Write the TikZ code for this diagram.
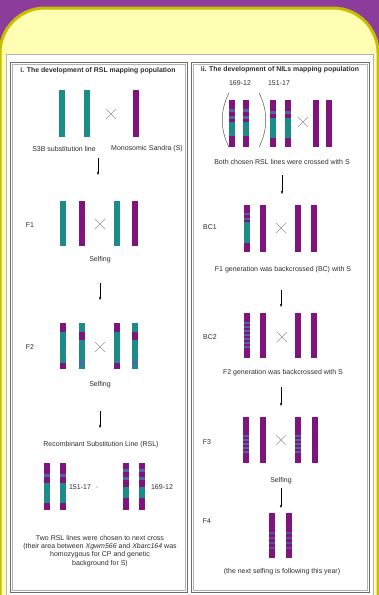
\documentclass[tikz,border=0pt]{standalone}
\usepackage{fontspec}
\setmainfont{Liberation Sans}
\usetikzlibrary{arrows.meta}
\definecolor{bgpurple}{RGB}{140,60,155}
\definecolor{paneyellow}{RGB}{255,255,180}
\definecolor{paneedge}{RGB}{200,190,0}
\definecolor{chteal}{RGB}{28,140,136}
\definecolor{chpurple}{RGB}{128,20,124}
\definecolor{chblue}{RGB}{80,100,170}
\definecolor{txtgray}{RGB}{45,45,45}
\definecolor{framegray}{RGB}{110,110,110}
% one coloured stretch of a chromosome bar: x, top, bottom, colour
\newcommand\chseg[4]{\fill[#4] (#1-2.7,#2) rectangle (#1+2.7,#3);}
% a thin grey cross marking a cross between lines
\newcommand\crossmark[2]{\draw[crossline] (#1-5,#2-5) -- (#1+5,#2+5) (#1-5,#2+5) -- (#1+5,#2-5);}
\tikzset{
  x=1pt, y=-1pt,
  lbl/.style={font=\fontsize{7}{8}\selectfont, text=txtgray, inner sep=0pt},
  ttl/.style={font=\fontsize{6.9}{8}\selectfont\bfseries, text=txtgray, inner sep=0pt},
  crossline/.style={draw=gray!80, line width=0.6pt},
  flow/.style={-{Stealth[length=3.2pt,width=2.4pt]}, line width=0.5pt, black},
  paren/.style={draw=gray!70!black, line width=0.5pt},
}
\begin{document}
\begin{tikzpicture}
\useasboundingbox (0,0) rectangle (379,595);
% background and rounded poster panel
\fill[bgpurple] (0,0) rectangle (379,595);
\filldraw[fill=paneyellow, draw=paneedge, line width=3pt, rounded corners=45pt] (0,8) rectangle (378,640);
% white figure area
\filldraw[fill=white, draw=gray!60] (6,54) rectangle (373,600);
% the two panels
\draw[framegray, line width=0.9pt] (10,62) rectangle (187,592);
\draw[gray!60, line width=0.4pt] (12,64) rectangle (185,590);
\draw[framegray, line width=0.9pt] (191,62) rectangle (369,592);
\draw[gray!60, line width=0.4pt] (193,64) rectangle (367,590);

% ---------------- panel i ----------------
\node[ttl] (t1) at (98,71) {i. The development of RSL mapping population};
% parents
\chseg{62}{90}{137}{chteal}
\chseg{87}{90}{137}{chteal}
\chseg{136}{90}{137}{chpurple}
\crossmark{111}{114}
\node[lbl] (p1) at (64,149) {S3B substitution line};
\node[lbl] (p2) at (147,149) {Monosomic Sandra (S)};
\coordinate (a1s) at (98,158); \coordinate (a1e) at (98,175);
\draw[flow] (a1s) -- (a1e);
% F1
\node[lbl] (f1) at (30,225) {F1};
\chseg{63}{201}{246}{chteal}
\chseg{82}{201}{246}{chpurple}
\crossmark{100}{224}
\chseg{117}{201}{246}{chteal}
\chseg{135}{201}{246}{chpurple}
\node[lbl] (s1) at (100,260) {Selfing};
\coordinate (a2s) at (100,283); \coordinate (a2e) at (100,300);
\draw[flow] (a2s) -- (a2e);
% F2
\node[lbl] (f2) at (30,347) {F2};
\foreach \xx in {63,117}{
  \chseg{\xx}{323}{332}{chpurple}
  \chseg{\xx}{332}{363}{chteal}
  \chseg{\xx}{363}{369}{chpurple}
}
\foreach \xx in {82,135}{
  \chseg{\xx}{323}{332}{chteal}
  \chseg{\xx}{332}{340}{chpurple}
  \chseg{\xx}{340}{361}{chteal}
  \chseg{\xx}{361}{365}{chblue}
  \chseg{\xx}{365}{369}{chteal}
}
\crossmark{100}{347}
\node[lbl] (s2) at (100,385) {Selfing};
\coordinate (a3s) at (100,411); \coordinate (a3e) at (100,428);
\draw[flow] (a3s) -- (a3e);
\node[lbl] (rsl) at (101,445) {Recombinant Substitution Line (RSL)};
% the two chosen RSL lines
\foreach \xx in {47,63}{
  \chseg{\xx}{463}{483}{chpurple}
  \chseg{\xx}{474}{476.5}{chblue}
  \chseg{\xx}{483}{503}{chteal}
  \chseg{\xx}{503}{510}{chpurple}
}
\node[lbl] (l15) at (80,487) {151-17};
\node[lbl, text=gray] (dsh) at (97,488) {-};
\foreach \xx in {126,142}{
  \chseg{\xx}{463}{487}{chpurple}
  \chseg{\xx}{469}{471.5}{chblue}
  \chseg{\xx}{477}{479.5}{chblue}
  \chseg{\xx}{487}{498}{chteal}
  \chseg{\xx}{498}{510}{chpurple}
}
\node[lbl] (l16) at (162,487) {169-12};
\node[lbl, align=center] (note) at (100,551) {Two RSL lines were chosen to next cross\\[0.3pt]
(their area between \textit{Xgwm566} and \textit{Xbarc164} was\\[0.3pt]
homozygous for CP and genetic\\[0.3pt]
background for S)};

% ---------------- panel ii ----------------
\node[ttl] (t2) at (280,70) {ii. The development of NILs mapping population};
\node[lbl] (n16) at (240,83) {169-12};
\node[lbl] (n15) at (279,83) {151-17};
\draw[paren] (229,93) .. controls (220,110) and (220,130) .. (229,147);
\draw[paren] (259,93) .. controls (268,110) and (268,130) .. (259,147);
\foreach \xx in {232,246}{
  \chseg{\xx}{100}{122}{chpurple}
  \chseg{\xx}{109}{111.5}{chblue}
  \chseg{\xx}{116}{118.5}{chblue}
  \chseg{\xx}{122}{136}{chteal}
  \chseg{\xx}{136}{147}{chpurple}
}
\foreach \xx in {273,288}{
  \chseg{\xx}{100}{118}{chpurple}
  \chseg{\xx}{111}{113.5}{chblue}
  \chseg{\xx}{118}{138}{chteal}
  \chseg{\xx}{138}{147}{chpurple}
}
\crossmark{303}{122}
\chseg{316}{100}{147}{chpurple}
\chseg{329}{100}{147}{chpurple}
\node[lbl] (c1) at (282,162) {Both chosen RSL lines were crossed with S};
\coordinate (b1s) at (282,175); \coordinate (b1e) at (282,194);
\draw[flow] (b1s) -- (b1e);
% BC1
\node[lbl] (bc1) at (210,227) {BC1};
\chseg{247}{205}{222}{chpurple}
\chseg{247}{213}{215}{chblue}
\chseg{247}{218}{220}{chblue}
\chseg{247}{222}{243}{chteal}
\chseg{247}{243}{252}{chpurple}
\chseg{263}{205}{252}{chpurple}
\crossmark{281}{228}
\chseg{298}{205}{252}{chpurple}
\chseg{314}{205}{252}{chpurple}
\node[lbl] (c2) at (283,270) {F1 generation was backcrossed (BC) with S};
\coordinate (b2s) at (281,290); \coordinate (b2e) at (281,307);
\draw[flow] (b2s) -- (b2e);
% BC2
\node[lbl] (bc2) at (210,337) {BC2};
\chseg{247}{313}{358}{chpurple}
\foreach \yy in {322,326,330,334,338,342,346}{\chseg{247}{\yy}{\yy+2}{chblue}}
\chseg{263}{313}{358}{chpurple}
\crossmark{282}{337}
\chseg{298}{313}{358}{chpurple}
\chseg{314}{313}{358}{chpurple}
\node[lbl] (c3) at (283,373) {F2 generation was backcrossed with S};
\coordinate (b3s) at (281,387); \coordinate (b3e) at (281,406);
\draw[flow] (b3s) -- (b3e);
% F3
\node[lbl] (f3) at (207,442) {F3};
\foreach \xx in {246,298}{
  \chseg{\xx}{417}{463}{chpurple}
  \foreach \yy in {435,439,443,447,451}{\chseg{\xx}{\yy}{\yy+2}{chblue}}
}
\chseg{263}{417}{463}{chpurple}
\chseg{315}{417}{463}{chpurple}
\crossmark{281}{440}
\node[lbl] (s3) at (281,481) {Selfing};
\coordinate (b4s) at (281,488); \coordinate (b4e) at (281,508);
\draw[flow] (b4s) -- (b4e);
% F4
\node[lbl] (f4) at (207,521) {F4};
\foreach \xx in {272,289}{
  \chseg{\xx}{513}{558}{chpurple}
  \foreach \yy in {532,537,542,547}{\chseg{\xx}{\yy}{\yy+1.5}{chblue!70!chpurple}}
}
\node[lbl] (c4) at (282,572) {(the next selfing is following this year)};
\end{tikzpicture}
\end{document}
